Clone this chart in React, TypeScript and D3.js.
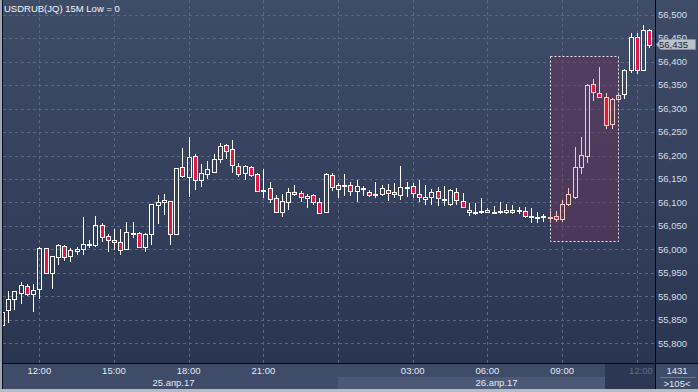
import * as d3 from "d3";

// 15-minute bars, first bar 25.04.2017 10:30 UTC
const firstBarTime = Date.UTC(2017, 3, 25, 10, 30);
const barMinutes = 15;

const opens = [
  55840, 55870, 55894, 55908, 55922, 55906,
  55915, 56002, 55949, 55984, 56007, 55985, 55996, 56001, 56010, 56010,
  56053, 56028, 56021, 56015, 56000, 56034, 56036, 56005, 56032, 56094,
  56100, 56103, 56032, 56175, 56154, 56199, 56148, 56161, 56165, 56192,
  56222, 56213, 56177, 56162, 56175, 56160, 56126, 56130, 56109, 56079,
  56102, 56122, 56120, 56109, 56115, 56101, 56080, 56158, 56129, 56135,
  56137, 56125, 56128, 56122, 56117, 56119, 56127, 56122, 56115, 56131,
  56135, 56119, 56107, 56111, 56124, 56107, 56097, 56122, 56103, 56085,
  56079, 56081, 56085, 56079, 56079, 56080, 56084, 56082, 56082, 56072,
  56068, 56070, 56069, 56072, 56064, 56096, 56112, 56176, 56198, 56352,
  56333, 56325, 56267, 56321, 56331, 56382, 56452, 56383, 56468,
];
const highs = [
  55872, 55911, 55911, 55931, 55926, 55926,
  56006, 56004, 55986, 56012, 56009, 56003, 56006, 56069, 56020, 56071,
  56056, 56033, 56043, 56043, 56058, 56058, 56037, 56034, 56097, 56116,
  56118, 56104, 56174, 56216, 56239, 56203, 56183, 56188, 56203, 56226,
  56225, 56233, 56185, 56180, 56178, 56162, 56171, 56144, 56116, 56118,
  56130, 56137, 56125, 56118, 56118, 56109, 56163, 56163, 56141, 56161,
  56143, 56148, 56136, 56127, 56143, 56137, 56139, 56141, 56178, 56143,
  56141, 56148, 56137, 56129, 56132, 56135, 56129, 56130, 56120, 56098,
  56099, 56109, 56088, 56092, 56102, 56096, 56094, 56091, 56091, 56088,
  56080, 56075, 56081, 56081, 56105, 56130, 56218, 56239, 56352, 56362,
  56388, 56334, 56322, 56333, 56384, 56460, 56460, 56478, 56469,
];
const lows = [
  55835, 55844, 55871, 55884, 55901, 55867,
  55895, 55948, 55916, 55967, 55976, 55973, 55989, 55989, 56004, 56006,
  56016, 55995, 55999, 55988, 55999, 56024, 56003, 55995, 56009, 56054,
  56073, 56009, 56030, 56153, 56111, 56127, 56134, 56150, 56163, 56185,
  56192, 56163, 56155, 56148, 56155, 56123, 56109, 56098, 56080, 56070,
  56084, 56114, 56102, 56088, 56095, 56078, 56079, 56125, 56109, 56114,
  56114, 56100, 56114, 56111, 56109, 56114, 56104, 56110, 56105, 56112,
  56109, 56102, 56095, 56095, 56092, 56093, 56093, 56095, 56088, 56072,
  56074, 56076, 56077, 56077, 56076, 56076, 56076, 56076, 56066, 56057,
  56057, 56059, 56057, 56059, 56059, 56093, 56108, 56161, 56185, 56316,
  56322, 56257, 56257, 56318, 56320, 56375, 56373, 56382, 56430,
];
const closes = [
  55866, 55894, 55911, 55924, 55904, 55913,
  56004, 55950, 55985, 56009, 55983, 55998, 56001, 56011, 56011, 56053,
  56026, 56021, 56015, 55998, 56038, 56036, 56005, 56032, 56096, 56102,
  56105, 56032, 56173, 56156, 56196, 56147, 56162, 56171, 56192, 56220,
  56210, 56179, 56160, 56177, 56158, 56124, 56127, 56107, 56080, 56103,
  56122, 56117, 56111, 56113, 56101, 56078, 56161, 56132, 56137, 56137,
  56125, 56135, 56130, 56115, 56118, 56130, 56120, 56117, 56132, 56133,
  56120, 56111, 56111, 56122, 56109, 56105, 56127, 56105, 56090, 56080,
  56080, 56082, 56080, 56078, 56081, 56085, 56079, 56084, 56071, 56070,
  56070, 56071, 56068, 56065, 56096, 56118, 56176, 56201, 56350, 56335,
  56325, 56266, 56320, 56330, 56382, 56452, 56382, 56467, 56435,
];

const priceTicks = [
  55800, 55850, 55900, 55950, 56000, 56050, 56100, 56150,
  56200, 56250, 56300, 56350, 56400, 56450, 56500,
];
const dayStarts = [Date.UTC(2017, 3, 25), Date.UTC(2017, 3, 26), Date.UTC(2017, 3, 27)];
const dayLabels = ["25.апр.17", "26.апр.17"];

// highlighted zone (bar positions in the list, price band)
const zoneFromBar = 88;
const zoneToBar = 99;
const zoneLow = 56018;
const zoneHigh = 56412;

const title = "USDRUB(JQ) 15M Low = 0";
const lastCloseLabel = "56,435";
const barCount = "1431";
const visibleLabel = ">105<";

const W = 698;
const H = 392;
const L = 3;
const R = 655;
const T = 0;
const B = 363;
const FONT = "'Liberation Sans', Arial, sans-serif";

export default function App() {
  const bars = opens.map((o, i) => ({
    t: new Date(firstBarTime + i * barMinutes * 60000),
    o,
    h: highs[i],
    l: lows[i],
    c: closes[i],
    i,
  }));

  const x = d3
    .scaleUtc()
    .domain([new Date(Date.UTC(2017, 3, 25, 12)), new Date(Date.UTC(2017, 3, 26, 12))])
    .range([39.3, 636.8]);
  const y = d3.scaleLinear().domain([55800, 56500]).range([343.3, 14.7]);

  const hourTicks = d3.utcHour
    .every(3)!
    .range(new Date(Date.UTC(2017, 3, 25, 12)), new Date(Date.UTC(2017, 3, 26, 13)));
  const fmtHour = d3.utcFormat("%H:%M");
  const fmtPrice = d3.format(",");

  const px = (v: number) => Math.round(v) + 0.5;

  const zx0 = x(bars[zoneFromBar].t);
  const zx1 = x(bars[zoneToBar].t);
  const last = bars[bars.length - 1];
  const lastY = Math.round(y(last.c)) - 0.5;

  return (
    <svg
      width={W}
      height={H}
      style={{ position: "absolute", left: 0, top: 0, display: "block" }}
      fontFamily={FONT}
    >
      <defs>
        <linearGradient id="bg" x1="0" y1="0" x2="0" y2="1">
          <stop offset="0" stopColor="#3f4c68" />
          <stop offset="1" stopColor="#2a3552" />
        </linearGradient>
        <clipPath id="plotClip">
          <rect x={L} y={T} width={R - L} height={B - T} />
        </clipPath>
      </defs>

      {/* backgrounds */}
      <rect x={0} y={0} width={W} height={B} fill="url(#bg)" />
      <rect x={0} y={B} width={W} height={H - B} fill="#3e4b69" />
      <rect x={338} y={377} width={605 - 338} height={12} fill="#4b5977" />
      <rect x={605} y={B} width={R - 605} height={26} fill="#2c3853" />

      {/* grid */}
      <g stroke="#5a6886" strokeDasharray="3,3" strokeWidth={1}>
        {priceTicks.map((p) => (
          <line key={p} x1={L} x2={R} y1={px(y(p))} y2={px(y(p))} />
        ))}
        {hourTicks.map((t) => (
          <line key={+t} x1={px(x(t))} x2={px(x(t))} y1={T} y2={B} />
        ))}
      </g>

      {/* highlighted zone */}
      <rect
        x={px(zx0)}
        y={px(y(zoneHigh))}
        width={Math.round(zx1) - Math.round(zx0)}
        height={Math.round(y(zoneLow)) - Math.round(y(zoneHigh))}
        fill="#6c3358"
        fillOpacity={0.45}
        stroke="#e8e4ee"
        strokeDasharray="2,2"
      />

      {/* candles */}
      <g clipPath="url(#plotClip)">
        {bars.map((d) => {
          const cx = px(x(d.t));
          const up = d.c >= d.o;
          const inZone = d.i >= zoneFromBar && d.i <= zoneToBar;
          const line = inZone ? "#f6c8c2" : "#ffffff";
          const top = Math.round(y(Math.max(d.o, d.c)));
          const bot = Math.max(Math.round(y(Math.min(d.o, d.c))), top + 1);
          const hy = Math.round(y(d.h));
          const ly = Math.round(y(d.l));
          return (
            <g key={d.i} stroke={line} strokeWidth={1}>
              <line x1={cx} x2={cx} y1={hy} y2={top} />
              <line x1={cx} x2={cx} y1={bot} y2={ly} />
              <rect
                x={cx - 2}
                y={top + 0.5}
                width={4}
                height={bot - top}
                fill={up ? "none" : "#e3173f"}
              />
            </g>
          );
        })}
      </g>

      {/* frame lines */}
      <line x1={R + 0.5} x2={R + 0.5} y1={0} y2={389} stroke="#05070c" />
      <line x1={L} x2={W} y1={B + 0.5} y2={B + 0.5} stroke="#05070c" />
      <line x1={2.5} x2={2.5} y1={0} y2={389} stroke="#0a0e16" />
      <rect x={0} y={0} width={2} height={H} fill="#9ea7b8" />
      <rect x={0} y={389} width={W} height={3} fill="#b3bbc7" />

      {/* title */}
      <text x={4} y={11.5} fontSize={9.5} fill="#f2f5f9">
        {title}
      </text>

      {/* right axis */}
      <g fontSize={9.5} fill="#d6deea">
        {priceTicks.map((p) => (
          <text key={p} x={658} y={y(p)} dy="0.35em">
            {fmtPrice(p)}
          </text>
        ))}
      </g>

      {/* last price marker, drawn over the axis label like the terminal does */}
      <path
        d={`M${R + 1.5},${lastY} L${R + 5.5},${lastY - 5} H${695.5} V${lastY + 5} H${R + 5.5} Z`}
        fill="#c3c7d0"
        fillOpacity={0.95}
        stroke="#8d95a4"
        strokeWidth={0.5}
      />
      <text x={659} y={lastY} dy="0.35em" fontSize={9.5} fill="#1c2333">
        {lastCloseLabel}
      </text>

      {/* bottom axis */}
      <g fontSize={9.5} textAnchor="middle">
        {hourTicks
          .filter((t) => t.getUTCHours() !== 0)
          .map((t) => {
            const isLast = +t === +x.domain()[1];
            return (
              <text
                key={+t}
                x={isLast ? 641 : x(t)}
                y={371}
                dy="0.35em"
                fill={isLast ? "#5f6d86" : "#e4eaf3"}
              >
                {fmtHour(t)}
              </text>
            );
          })}
        {dayLabels.map((lab, i) => {
          const a = Math.max(L, x(new Date(dayStarts[i])));
          const b = Math.min(R, x(new Date(dayStarts[i + 1])));
          return (
            <text key={lab} x={(a + b) / 2 + (i === 0 ? 3 : 0)} y={383} dy="0.35em" fill="#e4eaf3">
              {lab}
            </text>
          );
        })}
      </g>

      {/* bottom right box */}
      <line x1={660} x2={696} y1={377.5} y2={377.5} stroke="#6b7895" />
      <g fontSize={9.5} textAnchor="middle" fill="#e4eaf3">
        <text x={677} y={371} dy="0.35em">
          {barCount}
        </text>
        <text x={677} y={383.5} dy="0.35em">
          {visibleLabel}
        </text>
      </g>
    </svg>
  );
}
